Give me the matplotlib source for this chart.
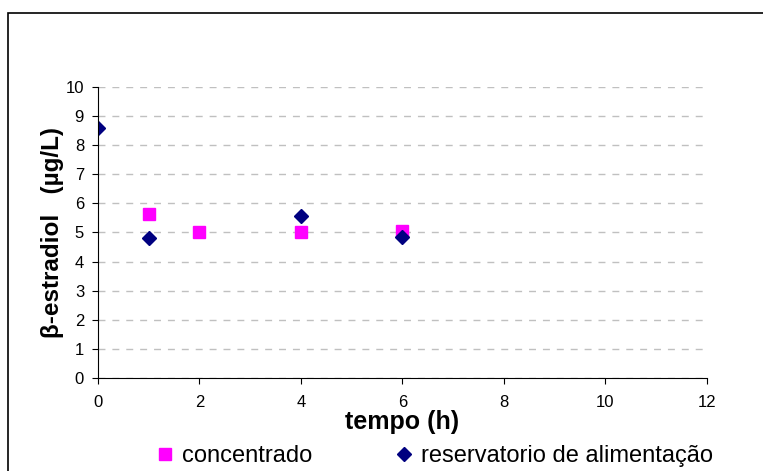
import matplotlib
matplotlib.use("Agg")
import matplotlib.pyplot as plt
from matplotlib.patches import Rectangle

plt.rcParams['font.family'] = ['Liberation Sans', 'DejaVu Sans']

# dados
tempo_conc = [1, 2, 4, 6]
conc = [5.62, 5.02, 5.02, 5.04]
tempo_res = [0, 1, 4, 6]
res = [8.6, 4.82, 5.58, 4.83]

fig = plt.figure(figsize=(7.63, 4.71), dpi=100)
ax = fig.add_axes([0.1284, 0.1975, 0.798, 0.6178])

ax.plot(tempo_conc, conc, linestyle='none', marker='s', markersize=8.5,
        color='#FF00FF', label='concentrado')
ax.plot(tempo_res, res, linestyle='none', marker='D', markersize=7.5,
        color='#000080', label='reservatorio de alimentação')

ax.set_xlim(0, 12)
ax.set_ylim(0, 10)
ax.set_xticks(range(0, 13, 2))
ax.set_yticks(range(0, 11))
ax.tick_params(labelsize=12, direction='out', length=4, width=0.8)
ax.tick_params(axis='x', pad=8)
ax.tick_params(axis='y', pad=6)
ax.yaxis.grid(True, color='#c0c0c0', linestyle=(0, (5, 5)), linewidth=1)
ax.set_axisbelow(True)
for s in ['top', 'right']:
    ax.spines[s].set_visible(False)

ax.set_xlabel('tempo (h)', fontsize=18, fontweight='bold', labelpad=0)
ax.set_ylabel('β-estradiol   (µg/L)', fontsize=17.5, fontweight='bold', labelpad=1)

fig.legend(loc='center', bbox_to_anchor=(0.5685, 0.032), ncol=2, frameon=False,
           fontsize=17, handletextpad=0.25, columnspacing=3.45, handlelength=0.9,
           borderaxespad=0)

# moldura externa
fig.patches.append(Rectangle((8 / 763, -0.1), 2, 1.1 - 13 / 471, transform=fig.transFigure,
                             fill=False, edgecolor='black', linewidth=1.2))

fig.savefig('out.png', dpi=100)
